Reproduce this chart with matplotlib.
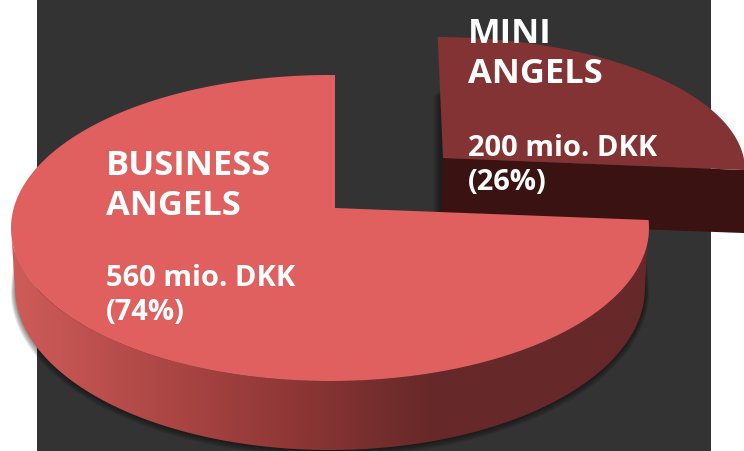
import numpy as np
import matplotlib
matplotlib.use("Agg")
import matplotlib.pyplot as plt
from matplotlib.patches import Polygon, Rectangle
from matplotlib.colors import LinearSegmentedColormap

# ---- data ----
segment_names = ["BUSINESS\nANGELS", "MINI\nANGELS"]
segment_values = [560, 200]
segment_labels = ["560 mio. DKK\n(74%)", "200 mio. DKK\n(26%)"]

plt.rcParams["font.family"] = ["Open Sans", "DejaVu Sans"]
fig = plt.figure(figsize=(7.44, 4.51), dpi=100, facecolor="white")
ax = fig.add_axes([0, 0, 1, 1])
ax.axis("off")

shares = np.array(segment_values) / sum(segment_values)


def arc(cx, cy, rx, ry, a0, a1, n=240):
    t = np.radians(np.linspace(a0, a1, n))
    return np.column_stack([cx + rx * np.cos(t), cy - ry * np.sin(t)])


def add_poly(pts, color, z, alpha=None):
    p = Polygon(pts, closed=True, facecolor=color, edgecolor="none", zorder=z, alpha=alpha)
    ax.add_patch(p)
    return p


# dark panel
ax.add_patch(Rectangle((37, 0), 674, 451, facecolor="#333333", edgecolor="none", zorder=0))

# ---- mini wedge (exploded) ----
mini_start = 89.5
mini_end = mini_start - 360 * shares[1] * 0.945   # foreshortened by perspective
mini_apex = np.array([443, 158])
mini_arc = arc(435, 170, 310, 133, mini_start, mini_end)
# soft shadow to the left of the cut face
for k in range(1, 9):
    add_poly([[441 - k, 88 + k], [443, 88 + k], [443, 212], [441 - k, 212]], "#000000", 1, alpha=0.06)
# front cut face
corner = mini_arc[-1]
add_poly([mini_apex, corner, corner + [0, 63], [441, 222]], "#3a1212", 2)
# top face
add_poly(np.vstack([mini_apex, mini_arc]), "#833333", 3)

# ---- main wedge ----
main_start = 89.1
main_end = main_start + 360 * shares[0] * 1.0325  # foreshortened by perspective
main_apex = np.array([335, 208])
top = (330, 228, 319, 153)
bot = (330, 288, 315, 162)

# drop shadow under the rim
for k in range(1, 8):
    pts = np.vstack([arc(top[0], top[1] + 3, top[2] - 5, top[3], 180, 360),
                     arc(bot[0], bot[1] + k * 0.5, bot[2] + k * 0.6, bot[3] + k * 0.5, 360, 180)])
    add_poly(pts, "#000000", 4, alpha=0.07)

# rim with horizontal shading
side_top = arc(*top, main_end, 180)
side_bot = arc(*bot, 180, 360)
side = add_poly(np.vstack([side_top, side_bot]), "none", 5)
rim_cmap = LinearSegmentedColormap.from_list(
    "rim",
    [(0.0, "#cf5c59"), (0.25, "#ab4644"), (0.44, "#8f3736"), (0.57, "#772e2e"),
     (0.67, "#662828"), (1.0, "#662828")],
)
im = ax.imshow(np.linspace(0, 1, 512).reshape(1, -1), cmap=rim_cmap, aspect="auto",
               extent=(10, 650, 451, 200), zorder=5)
im.set_clip_path(side)

# top face
add_poly(np.vstack([main_apex, arc(*top, main_start, main_end)]), "#e05f5f", 6)

# ---- labels ----
ax.text(467.5, 83, segment_names[1], color="white", fontweight="bold", fontsize=24.8,
        va="baseline", ha="left", linespacing=1.22, zorder=10)
ax.text(467.5, 190, segment_labels[1], color="white", fontweight="bold", fontsize=21,
        va="baseline", ha="left", linespacing=1.22, zorder=10)
ax.text(106, 215, segment_names[0], color="white", fontweight="bold", fontsize=24.8,
        va="baseline", ha="left", linespacing=1.22, zorder=10)
ax.text(105.5, 320, segment_labels[0], color="white", fontweight="bold", fontsize=21,
        va="baseline", ha="left", linespacing=1.22, zorder=10)

ax.set_xlim(0, 744)
ax.set_ylim(451, 0)
fig.savefig("out.png", dpi=100, facecolor="white")
